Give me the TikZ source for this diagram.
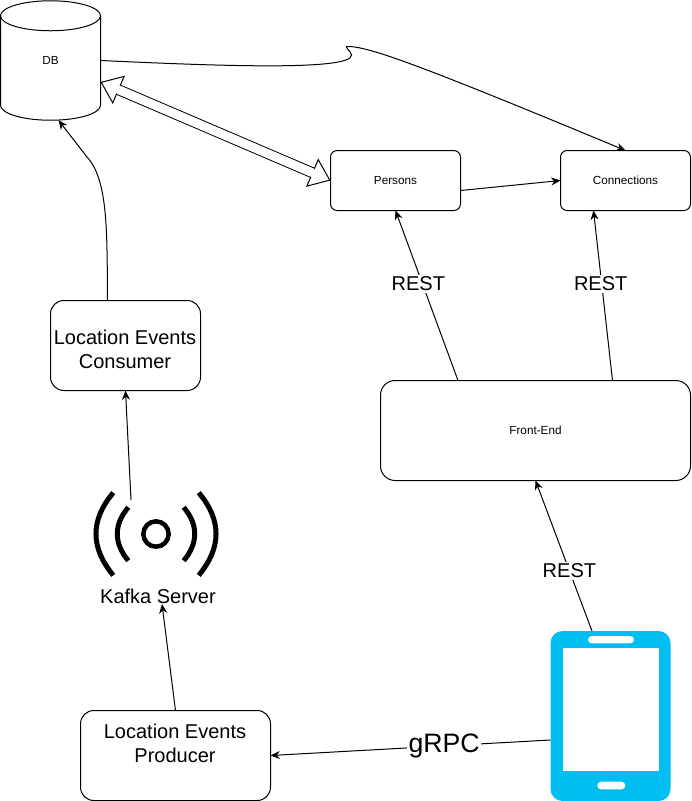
\documentclass[tikz,border=0pt]{standalone}
\usepackage{fontspec}
\setmainfont{Liberation Sans}
\usetikzlibrary{arrows.meta,calc}
\definecolor{phoneblue}{RGB}{0,190,242}

\begin{document}
\begin{tikzpicture}[x=.75pt,y=-.75pt,>={Stealth[length=7pt,width=6pt]},line width=.75pt,
  serviceBox/.style={draw,rounded corners=#1,outer sep=0pt,inner sep=0pt,align=center},
  smallText/.style={font=\fontsize{8.8}{10}\selectfont},
  bigText/.style={font=\fontsize{15}{18}\selectfont,align=center},
  restLabel/.style={fill=white,inner sep=1.5pt,font=\fontsize{15}{18}\selectfont},
  waveLine/.style={line width=3.75pt}]
\useasboundingbox (0,0) rectangle (692,801);
% Database and the two services next to it.
\node[smallText,minimum width=75pt,minimum height=89.6pt,outer sep=0pt,inner sep=0pt] (db) at (50.5,60.5) {DB};
\draw (db.north west) ++(0,15) -- ($(db.south west)+(0,-15)$) .. controls ($(db.south west)+(0,-6.7)$) and ($(db.south)+(-27.6,0)$) .. (db.south)
  .. controls ($(db.south)+(27.6,0)$) and ($(db.south east)+(0,-6.7)$) .. ($(db.south east)+(0,-15)$) -- ($(db.north east)+(0,15)$);
\draw ($(db.north)+(0,15)$) ellipse (50 and 15);
\node[serviceBox=5pt,smallText,minimum width=97.5pt,minimum height=45pt] (persons) at (395.5,180.5) {Persons};
\node[serviceBox=5pt,smallText,minimum width=97.5pt,minimum height=45pt] (connections) at (625.5,180.5) {Connections};
\node[serviceBox=11pt,smallText,minimum width=232.5pt,minimum height=75pt] (frontend) at (535.5,430.5) {Front-End};
% Location events boxes, text sits apart from the box centre.
\node[serviceBox=10pt,minimum width=112.5pt,minimum height=67.5pt] (consumer) at (125.5,345.5) {};
\node[bigText] (consumerLabel) at (125,349) {Location Events\\Consumer};
\node[serviceBox=10pt,minimum width=142.5pt,minimum height=67.5pt] (producer) at (175.5,755.5) {};
\node[bigText] (producerLabel) at (175,743) {Location Events\\Producer};
% Kafka icon.
\node[draw,circle,line width=3.4pt,minimum size=19pt,inner sep=0pt,outer sep=0pt] (kafka) at (156,534) {};
\draw[waveLine] (128.3,507.3) .. controls (113.6,524.8) and (113.6,542.8) .. (128.3,560.7);
\draw[waveLine] (113.3,492.7) .. controls (90.2,519.9) and (90.2,547.5) .. (113.3,575.3);
\draw[waveLine] (183.7,507.3) .. controls (198.4,524.8) and (198.4,542.8) .. (183.7,560.7);
\draw[waveLine] (198.7,492.7) .. controls (221.8,519.9) and (221.8,547.5) .. (198.7,575.3);
\node[bigText] (kafkaLabel) at (158,596) {Kafka Server};
% Phone icon.
\node[fill=phoneblue,rounded corners=9pt,minimum width=90pt,minimum height=127.5pt,inner sep=0pt,outer sep=0pt] (phone) at (610.5,716) {};
\fill[white] (562.7,648.3) rectangle (659,770.7);
\fill[white,rounded corners=2.7pt] (588,636) rectangle (634,643.3);
\fill[white,rounded corners=2.8pt] (597.3,781.7) rectangle (625.3,789.3);
\coordinate (kafkaTop) at (131,500);
\coordinate (kafkaBottom) at (162,604);
% Connectors.
\draw[->] ($(consumer.north)+(-18,0)$) .. controls (107,230) and (108,180) .. (87,157) -- ($(db.south)+(8,0)$);
\draw[->] (db.east) .. controls (200,65) and (352,72) .. (351.6,55) .. controls (351,50) and (341,46) .. (350,46.5)
  .. controls (372,48) and (420,65) .. (connections.north);
\draw[double,double distance=6.6pt,line width=.75pt,
  {Triangle[open,fill=white,length=15pt,width=23pt,line width=.75pt]}-{Triangle[open,fill=white,length=15pt,width=23pt,line width=.75pt]}]
  ($(db.east)+(0,21.5)$) -- (persons.west);
\draw[white,line width=6.2pt,shorten <=13pt,shorten >=13pt] ($(db.east)+(0,21.5)$) -- (persons.west);
\draw[->] ($(persons.east)+(0,10)$) -- (connections.west);
\draw[->] ($(frontend.north)+(-77.5,0)$) -- (persons.south) node[pos=.57,restLabel,xshift=-3pt] {REST};
\draw[->] ($(frontend.north)+(77,0)$) -- ($(connections.south)+(-32,0)$) node[pos=.57,restLabel,xshift=-.75pt] {REST};
\draw[->] ($(phone.north)+(-18.5,0)$) -- (frontend.south) node[pos=.4,restLabel] {REST};
\draw[->] ($(phone.west)+(0,24)$) -- (producer.east) node[pos=.38,fill=white,inner sep=1pt,font=\fontsize{20}{24}\selectfont] {gRPC};
\draw[->] (producer.north) -- (kafkaBottom);
\draw[->] (kafkaTop) -- (consumer.south);
\end{tikzpicture}
\end{document}
